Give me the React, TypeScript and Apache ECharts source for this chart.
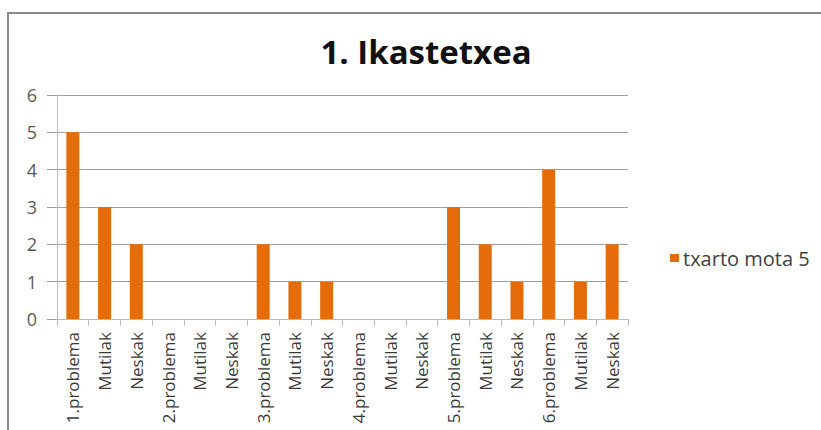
import React, { useEffect, useRef } from "react";
import * as echarts from "echarts";

const chartTitle = "1. Ikastetxea";
const seriesName = "txarto mota 5";
const categories = [
  "1.problema", "Mutilak", "Neskak",
  "2.problema", "Mutilak", "Neskak",
  "3.problema", "Mutilak", "Neskak",
  "4.problema", "Mutilak", "Neskak",
  "5.problema", "Mutilak", "Neskak",
  "6.problema", "Mutilak", "Neskak",
];
const values = [5, 3, 2, 0, 0, 0, 2, 1, 1, 0, 0, 0, 3, 2, 1, 4, 1, 2];
const yMin = 0;
const yMax = 6;
const yInterval = 1;

export default function App() {
  const ref = useRef<HTMLDivElement>(null);
  useEffect(() => {
    if (!ref.current) return;
    const chart = echarts.init(ref.current, null, { renderer: "svg" });
    chart.setOption({
      animation: false,
      backgroundColor: "#ffffff",
      graphic: [
        {
          type: "rect",
          shape: { x: 8, y: 13, width: 900, height: 500 },
          style: { fill: "none", stroke: "#8a8a8a", lineWidth: 2 },
          silent: true,
        },
      ],
      title: {
        text: chartTitle,
        left: 421,
        top: 30,
        textAlign: "center",
        textStyle: {
          fontFamily: "Open Sans",
          fontWeight: "bold",
          fontSize: 33,
          color: "#111111",
        },
      },
      legend: {
        left: 665,
        top: 243,
        itemWidth: 9,
        itemHeight: 8,
        itemGap: 6,
        icon: "rect",
        data: [seriesName],
        textStyle: {
          fontFamily: "Open Sans",
          fontSize: 20,
          color: "#404040",
          padding: [0, 0, 0, -1],
        },
      },
      grid: { left: 57, right: 193, top: 95, bottom: 111, containLabel: false },
      xAxis: {
        type: "category",
        data: categories,
        boundaryGap: true,
        axisLine: { show: true, lineStyle: { color: "#b4bcc6", width: 1 } },
        axisTick: {
          show: true,
          alignWithLabel: false,
          length: 7,
          lineStyle: { color: "#b4bcc6" },
        },
        axisLabel: {
          interval: 0,
          rotate: 90,
          margin: 13,
          fontFamily: "Open Sans",
          fontSize: 17,
          color: "#3a3a3a",
        },
      },
      yAxis: {
        type: "value",
        min: yMin,
        max: yMax,
        interval: yInterval,
        axisLine: { show: true, lineStyle: { color: "#b4bcc6", width: 1 } },
        axisTick: { show: true, length: 10, lineStyle: { color: "#a0a0a0" } },
        splitLine: { show: true, lineStyle: { color: "#a0a0a0", width: 1 } },
        axisLabel: {
          margin: 20,
          fontFamily: "Open Sans",
          fontSize: 18,
          color: "#595959",
        },
      },
      series: [
        {
          name: seriesName,
          type: "bar",
          data: values,
          barWidth: 13,
          itemStyle: { color: "#E46C0A" },
        },
      ],
    });
    return () => chart.dispose();
  }, []);
  return (
    <div
      ref={ref}
      style={{ position: "fixed", left: 0, top: 0, width: 821, height: 430 }}
    />
  );
}
